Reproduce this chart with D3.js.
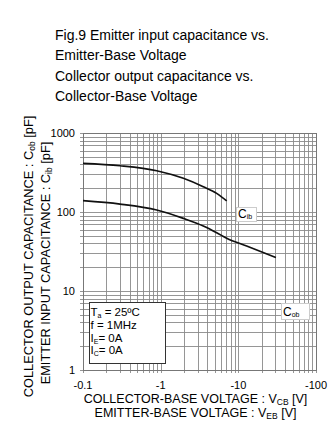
<!DOCTYPE html>
<html><head><meta charset="utf-8">
<script src="https://cdn.jsdelivr.net/npm/d3@7"></script>
<style>body{margin:0;background:#fff}svg{display:block}text{font-family:"Liberation Sans",Arial,sans-serif;fill:#000}</style>
</head><body><svg id="c" width="334" height="441"></svg>
<script>
const titleLines = ["Fig.9 Emitter input capacitance vs.", "Emitter-Base Voltage", "Collector output capacitance vs.", "Collector-Base Voltage"];
const xTicks = [-0.1, -1, -10, -100];
const yTicks = [1, 10, 100, 1000];
const cibV = [-0.1, -0.3, -0.89, -1.96, -3.54, -5.26, -7.08];
const cibC = [413, 385, 333, 267, 209, 172, 138];
const cobV = [-0.1, -0.3, -0.89, -1.96, -3.54, -5.26, -7.08, -12.8, -30.5];
const cobC = [139, 126, 106, 83, 66.5, 54.7, 46.5, 37.1, 26.5];
const condLines = [["T", "a", " = 25ºC"], ["f = 1MHz", "", ""], ["I", "E", "= 0A"], ["I", "C", "= 0A"]];

const svg = d3.select("#c");
const L = 83, R = 316, T = 133, B = 370;
const x = d3.scaleLog().domain([-0.1, -100]).range([L, R]);
const y = d3.scaleLog().domain([1, 1000]).range([B, T]);

// title
svg.append("g").selectAll("text").data(titleLines).join("text")
  .attr("x", 55).attr("y", (d, i) => 40 + i * 20.3)
  .attr("font-size", 14).text(d => d);

// grid
const xGrid = [], yGrid = [];
xTicks.slice(0, 3).forEach(t => { for (let k = 1; k <= 9; k++) xGrid.push(t * k); });
xGrid.push(-100);
yTicks.slice(0, 3).forEach(t => { for (let k = 1; k <= 9; k++) yGrid.push(t * k); });
yGrid.push(1000);

const g = svg.append("g");
g.selectAll(".vx").data(xGrid).join("line")
  .attr("x1", d => Math.round(x(d)) + 0.5).attr("x2", d => Math.round(x(d)) + 0.5)
  .attr("y1", T).attr("y2", B + 3).attr("stroke", "#8a8a8a").attr("stroke-width", 0.9);
g.selectAll(".hy").data(yGrid).join("line")
  .attr("y1", d => Math.round(y(d)) + 0.5).attr("y2", d => Math.round(y(d)) + 0.5)
  .attr("x1", L - 3).attr("x2", R).attr("stroke", "#8a8a8a").attr("stroke-width", 0.9);
g.append("rect").attr("x", L + 0.5).attr("y", T + 0.5).attr("width", R - L).attr("height", B - T)
  .attr("fill", "none").attr("stroke", "#777").attr("stroke-width", 1);

// tick labels
svg.append("g").selectAll("text").data(xTicks).join("text")
  .attr("x", d => x(d)).attr("y", 389).attr("text-anchor", "middle").attr("font-size", 11)
  .text(d => String(d));
svg.append("g").selectAll("text").data(yTicks).join("text")
  .attr("x", 75).attr("y", d => y(d) + 4).attr("text-anchor", "end").attr("font-size", 11)
  .text(d => String(d));

// curves
const line = d3.line().x(d => x(d[0])).y(d => y(d[1])).curve(d3.curveMonotoneX);
svg.append("path").datum(d3.zip(cibV, cibC)).attr("d", line)
  .attr("fill", "none").attr("stroke", "#111").attr("stroke-width", 1.7);
svg.append("path").datum(d3.zip(cobV, cobC)).attr("d", line)
  .attr("fill", "none").attr("stroke", "#111").attr("stroke-width", 1.7);

// curve labels
function label(x0, y0, w, h, sub) {
  svg.append("rect").attr("x", x0 + 0.5).attr("y", y0 + 0.5).attr("width", w).attr("height", h)
    .attr("fill", "#fff").attr("stroke", "#ccc").attr("stroke-width", 1);
  const t = svg.append("text").attr("x", x0 + 2).attr("y", y0 + h - 3.5).attr("font-size", 12);
  t.append("tspan").text("C");
  t.append("tspan").attr("font-size", 7).attr("dy", 1.5).text(sub);
}
label(236, 207, 20, 14, "ib");
label(281, 303, 28, 16, "ob");

// conditions box
svg.append("rect").attr("x", 89.5).attr("y", 302.5).attr("width", 76).attr("height", 61)
  .attr("fill", "#fff").attr("stroke", "#333").attr("stroke-width", 1);
condLines.forEach((d, i) => {
  const t = svg.append("text").attr("x", 90.5).attr("y", 316 + i * 12.8).attr("font-size", 11.5);
  t.append("tspan").text(d[0]);
  if (d[1]) t.append("tspan").attr("font-size", 7).attr("dy", 2).text(d[1]);
  if (d[2]) t.append("tspan").attr("dy", d[1] ? -2 : 0).text(d[2]);
});

// axis titles
function sTitle(parent, a, sub, b) {
  parent.append("tspan").text(a);
  parent.append("tspan").attr("font-size", 8.5).attr("dy", 2).text(sub);
  parent.append("tspan").attr("dy", -2).text(b);
}
sTitle(svg.append("text").attr("x", 195.5).attr("y", 403).attr("text-anchor", "middle").attr("font-size", 12.5),
  "COLLECTOR-BASE VOLTAGE : V", "CB", " [V]");
sTitle(svg.append("text").attr("x", 195.5).attr("y", 417).attr("text-anchor", "middle").attr("font-size", 12.5),
  "EMITTER-BASE VOLTAGE : V", "EB", " [V]");
sTitle(svg.append("text").attr("transform", "translate(32.5,256.5) rotate(-90)").attr("text-anchor", "middle").attr("font-size", 12.8),
  "COLLECTOR OUTPUT CAPACITANCE : C", "ob", " [pF]");
sTitle(svg.append("text").attr("transform", "translate(49.5,263) rotate(-90)").attr("text-anchor", "middle").attr("font-size", 12.8),
  "EMITTER INPUT CAPACITANCE : C", "ib", " [pF]");
</script></body></html>
